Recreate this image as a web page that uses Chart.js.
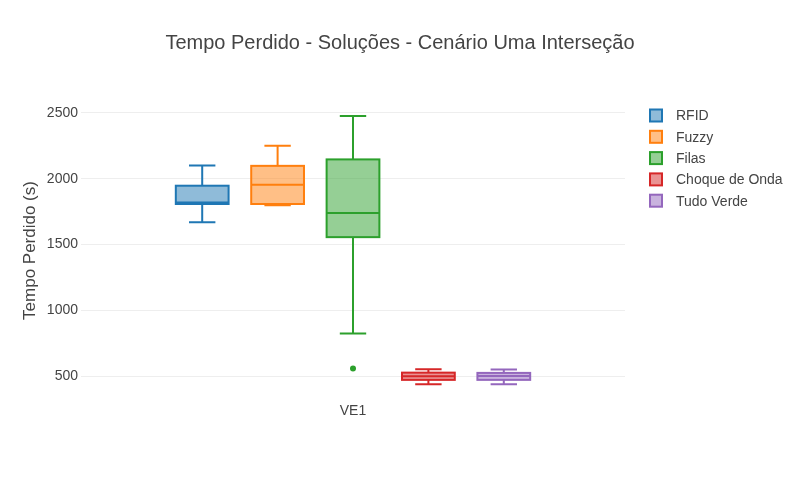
<!DOCTYPE html>
<html>
<head>
<meta charset="utf-8">
<script src="https://cdn.jsdelivr.net/npm/chart.js@4"></script>
<style>
  html, body { margin: 0; padding: 0; background: #fff; }
  #wrap { width: 800px; height: 480px; }
</style>
</head>
<body>
<div id="wrap"><canvas id="c" width="800" height="480"></canvas></div>
<script>
const categories = ['VE1'];
const seriesNames = ['RFID', 'Fuzzy', 'Filas', 'Choque de Onda', 'Tudo Verde'];
const lowerWhisker = [1669, 1798, 823, 437, 437];
const q1 = [1808, 1808, 1556, 471, 471];
const median = [1820, 1955, 1740, 499, 500];
const q3 = [1947, 2098, 2147, 526, 524];
const upperWhisker = [2101, 2250, 2477, 552, 550];
const outliers = [[], [], [558], [], []];
const yTicks = [500, 1000, 1500, 2000, 2500];
const colors = ['#1f77b4', '#ff7f0e', '#2ca02c', '#d62728', '#9467bd'];

function rgba(hex, a) {
  const n = parseInt(hex.slice(1), 16);
  return `rgba(${(n >> 16) & 255},${(n >> 8) & 255},${n & 255},${a})`;
}

const datasets = seriesNames.map((name, i) => ({
  label: name,
  data: [[q1[i], q3[i]]],
  backgroundColor: rgba(colors[i], 0.5),
  borderWidth: 0,
  categoryPercentage: 0.693,
  barPercentage: 0.7
}));

const boxPlugin = {
  id: 'boxParts',
  afterDatasetsDraw(chart) {
    const ctx = chart.ctx;
    const y = chart.scales.y;
    chart.data.datasets.forEach((ds, i) => {
      const meta = chart.getDatasetMeta(i);
      meta.data.forEach((bar) => {
        const x = bar.x;
        const w = bar.width;
        const half = w / 2;
        const cap = w / 4;
        const c = colors[i];
        ctx.save();
        ctx.strokeStyle = c;
        ctx.lineWidth = 2;
        const yq1 = y.getPixelForValue(q1[i]);
        const yq3 = y.getPixelForValue(q3[i]);
        const ylo = y.getPixelForValue(lowerWhisker[i]);
        const yhi = y.getPixelForValue(upperWhisker[i]);
        const ym = y.getPixelForValue(median[i]);
        ctx.strokeRect(x - half, yq3, w, yq1 - yq3);
        ctx.beginPath(); ctx.moveTo(x - half, ym); ctx.lineTo(x + half, ym); ctx.stroke();
        ctx.beginPath();
        ctx.moveTo(x, yq3); ctx.lineTo(x, yhi);
        ctx.moveTo(x - cap, yhi); ctx.lineTo(x + cap, yhi);
        ctx.moveTo(x, yq1); ctx.lineTo(x, ylo);
        ctx.moveTo(x - cap, ylo); ctx.lineTo(x + cap, ylo);
        ctx.stroke();
        ctx.fillStyle = c;
        outliers[i].forEach(v => {
          ctx.beginPath();
          ctx.arc(x, y.getPixelForValue(v), 3, 0, Math.PI * 2);
          ctx.fill();
        });
        ctx.restore();
      });
    });
    ctx.save();
    ctx.font = '14px "Liberation Sans", Arial, sans-serif';
    ctx.textBaseline = 'middle';
    ctx.textAlign = 'left';
    seriesNames.forEach((name, i) => {
      const cy = 115.5 + i * 21.3;
      ctx.fillStyle = rgba(colors[i], 0.5);
      ctx.fillRect(650, cy - 6, 12, 12);
      ctx.strokeStyle = colors[i];
      ctx.lineWidth = 2;
      ctx.strokeRect(650, cy - 6, 12, 12);
      ctx.fillStyle = '#444';
      ctx.fillText(name, 676, cy + 1);
    });
    ctx.restore();
  }
};

new Chart(document.getElementById('c'), {
  type: 'bar',
  data: { labels: categories, datasets },
  plugins: [boxPlugin],
  options: {
    responsive: false,
    animation: false,
    layout: { padding: 0 },
    plugins: {
      legend: { display: false },
      tooltip: { enabled: false },
      title: {
        display: true,
        text: 'Tempo Perdido - Soluções - Cenário Uma Interseção',
        color: '#444',
        font: { size: 20, family: '"Liberation Sans", Arial, sans-serif', weight: 'normal' },
        padding: { top: 31, bottom: 46 }
      }
    },
    scales: {
      x: {
        grid: { display: false, drawTicks: false },
        border: { display: false },
        ticks: { color: '#444', padding: 3, font: { size: 14, family: '"Liberation Sans", Arial, sans-serif' } },
        afterFit(s) { s.height = 80; }
      },
      y: {
        min: 318,
        max: 2591,
        grid: { color: '#eeeeee', lineWidth: 1, drawTicks: false },
        border: { display: false },
        afterBuildTicks(s) { s.ticks = yTicks.map(v => ({ value: v })); },
        ticks: {
          color: '#444', padding: 3,
          font: { size: 14, family: '"Liberation Sans", Arial, sans-serif' },
          callback: (v) => String(v)
        },
        title: {
          display: true,
          text: 'Tempo Perdido (s)',
          color: '#444',
          font: { size: 17, family: '"Liberation Sans", Arial, sans-serif' },
          padding: { top: 20, bottom: 0 }
        },
        afterFit(s) { s.width = 81; }
      },
      yR: {
        position: 'right',
        display: true,
        grid: { display: false, drawTicks: false },
        border: { display: false },
        ticks: { display: false },
        afterFit(s) { s.width = 175; }
      }
    }
  }
});
</script>
</body>
</html>
